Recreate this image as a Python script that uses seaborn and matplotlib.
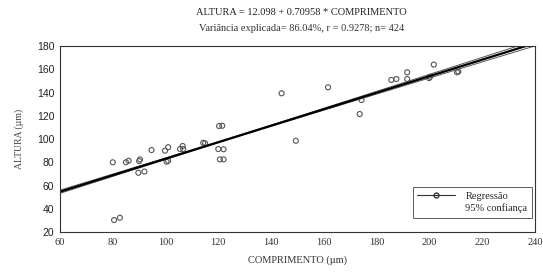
import matplotlib
matplotlib.use("Agg")
import matplotlib.pyplot as plt
from matplotlib.lines import Line2D
import numpy as np
import pandas as pd
import seaborn as sns

comprimento = [80, 80.5, 82.7, 85, 86, 90, 90.3, 89.7, 92, 94.7, 99.8, 101, 100.4, 101,
               105.5, 106.5, 106.7, 114.3, 115, 120, 122, 120.6, 122, 120.3, 121.5,
               144, 149.4, 161.6, 173.6, 174.3, 185.6, 187.5, 191.6, 191.6, 201.7,
               199.9, 200.3, 210.5, 211]
altura = [80, 30.3, 32.3, 80, 81.3, 81, 82.5, 71, 72, 90.5, 90, 93, 80.5, 81.3,
          91.4, 94, 91.4, 96.8, 96.3, 91.4, 91.2, 82.5, 82.5, 111.2, 111.4,
          139.3, 98.5, 144.5, 121.5, 133.5, 150.8, 151.6, 157.4, 151.6, 164,
          152.4, 153.5, 157.4, 158]

# fitted model given in the title
INTERCEPT = 12.098
SLOPE = 0.70958
# half-width of the 95% band
CI_A, CI_B, X_MEAN = 0.4, 0.02, 125

SERIF = "Liberation Serif"
SANS = "Liberation Sans"

sns.set_style("white")

df = pd.DataFrame({"COMPRIMENTO": comprimento, "ALTURA": altura})
xs = np.linspace(60, 240, 50)
fit = INTERCEPT + SLOPE * xs
hw = np.sqrt(CI_A ** 2 + (CI_B * (xs - X_MEAN)) ** 2)
lines = pd.DataFrame({"x": xs, "fit": fit, "lo": fit - hw, "hi": fit + hw})

fig = plt.figure(figsize=(5.43, 2.73), dpi=100)
ax = fig.add_axes([0.1105, 0.150, 0.8745, 0.6815])

sns.lineplot(data=lines, x="x", y="lo", color="#555555", lw=0.7, ax=ax)
sns.lineplot(data=lines, x="x", y="hi", color="#555555", lw=0.7, ax=ax)
sns.lineplot(data=lines, x="x", y="fit", color="black", lw=1.6, ax=ax)
sns.scatterplot(data=df, x="COMPRIMENTO", y="ALTURA", marker="o", s=13,
                facecolor="none", edgecolor="#555555", linewidth=0.8, ax=ax)

ax.set_xlim(60, 240)
ax.set_ylim(20, 180)
ax.set_xticks(range(60, 241, 20))
ax.set_yticks(range(20, 181, 20))
ax.tick_params(direction="in", length=2, width=0.6, pad=4)
for lab in ax.get_xticklabels():
    lab.set_family(SERIF)
    lab.set_fontsize(7.5)
    lab.set_color("#333333")
for lab in ax.get_yticklabels():
    lab.set_family(SANS)
    lab.set_fontsize(7.5)
    lab.set_color("#222222")
for sp in ax.spines.values():
    sp.set_color("#333333")
    sp.set_linewidth(0.8)

ax.set_xlabel("COMPRIMENTO (µm)", family=SERIF, fontsize=7.5, color="#333333",
              labelpad=6)
ax.set_ylabel("ALTURA (µm)", family=SERIF, fontsize=7, color="#444444",
              labelpad=9)

fig.text(0.555, 0.955, "ALTURA = 12.098 + 0.70958 * COMPRIMENTO", family=SERIF,
         fontsize=7.5, ha="center", va="center", color="#222222")
fig.text(0.555, 0.895, "Variância explicada= 86.04%, r = 0.9278; n= 424",
         family=SERIF, fontsize=7.5, ha="center", va="center", color="#333333")

handles = [
    Line2D([0], [0], color="#333333", lw=0.8, marker="o", markersize=3.5,
           markerfacecolor="none", markevery=[1]),
    Line2D([0], [0], color="none"),
]
leg = ax.legend(handles, ["Regressão", "95% confiança"], loc="lower right",
                bbox_to_anchor=(0.994, 0.075), borderaxespad=0, frameon=True,
                fancybox=False, prop={"family": SERIF, "size": 7.5},
                handlelength=3.6, handletextpad=1.0, borderpad=0.45,
                labelspacing=0.25)
leg.get_frame().set_edgecolor("#333333")
leg.get_frame().set_linewidth(0.7)

fig.savefig("out.png", dpi=100)
